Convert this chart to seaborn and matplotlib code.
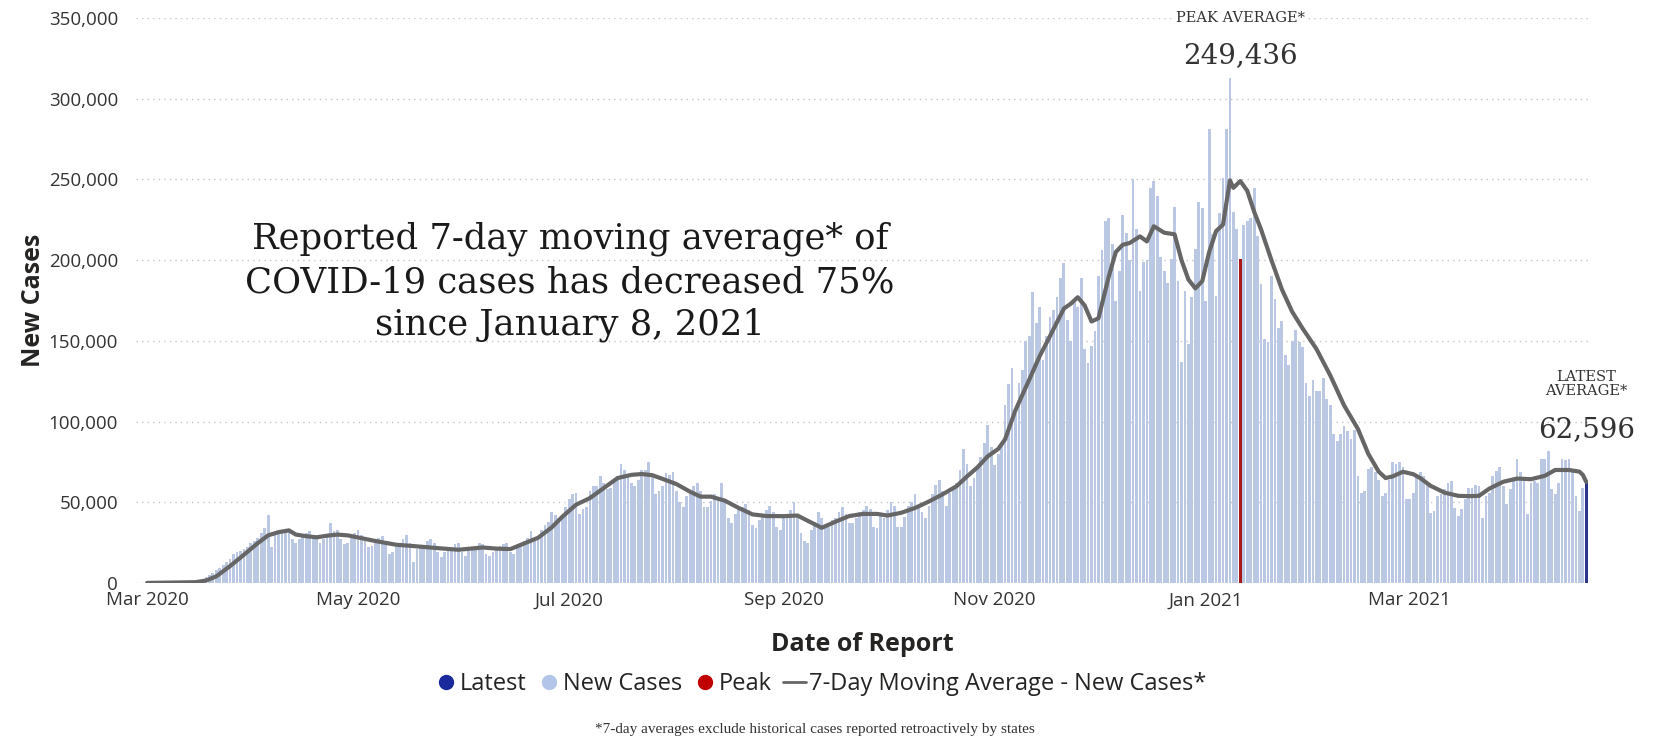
import numpy as np
import pandas as pd
import seaborn as sns
import matplotlib
matplotlib.use("Agg")
import matplotlib.pyplot as plt
import matplotlib.dates as mdates
from matplotlib.lines import Line2D
from matplotlib.ticker import FuncFormatter, MultipleLocator

# daily new cases, in thousands, one list per month
mar_2020 = [0.02, 0.03, 0.03, 0.04, 0.07, 0.07, 0.1, 0.12, 0.17, 0.3, 0.35, 0.45, 0.55, 0.7,
            1.0, 1.5, 2.5, 3.5, 5.0, 6.5, 8.0, 9.0, 11, 13, 15, 18, 19, 20, 21, 22, 25]
apr_2020 = [26, 28, 31, 34, 42, 22, 30, 31, 32, 33, 32, 27, 25, 27, 29, 31, 32, 30,
            27, 25, 27, 30, 37, 32, 33, 27, 24, 25, 29, 31]
may_2020 = [33, 30, 26, 22, 23, 25, 28, 29, 26, 18, 19, 22, 23, 27, 30, 25, 13, 21, 22, 23,
            26, 27, 25, 19, 16, 19, 20, 21, 24, 25, 19]
jun_2020 = [17, 20, 22, 21, 25, 24, 18, 17, 19, 21, 23, 24, 25, 19, 18, 22, 23, 26, 28, 32,
            26, 27, 33, 36, 38, 44, 42, 40, 41, 47]
jul_2020 = [52, 55, 56, 43, 46, 47, 57, 60, 60, 66, 62, 58, 59, 63, 66, 74, 70, 66, 62, 60,
            64, 70, 70, 75, 67, 55, 57, 60, 68, 67, 69]
aug_2020 = [57, 50, 47, 54, 55, 60, 62, 57, 47, 47, 51, 55, 53, 62, 52, 40, 37, 43, 46, 47,
            49, 45, 36, 34, 39, 43, 45, 48, 44, 35, 33]
sep_2020 = [41, 41, 45, 50, 42, 31, 26, 25, 33, 38, 44, 40, 34, 35, 39, 40, 44, 47, 43, 37,
            37, 40, 44, 45, 48, 46, 35, 34, 42, 40]
oct_2020 = [45, 50, 48, 35, 35, 41, 48, 50, 55, 48, 44, 40, 48, 55, 61, 64, 57, 48, 56, 59,
            62, 70, 83, 74, 60, 65, 72, 78, 87, 98, 84]
nov_2020 = [73, 80, 87, 110, 123, 133, 105, 124, 132, 150, 153, 180, 161, 171, 138, 153,
            165, 169, 177, 189, 198, 163, 150, 175, 171, 189, 145, 136, 147, 156]
dec_2020 = [190, 206, 224, 226, 210, 175, 193, 228, 217, 200, 250, 219, 181, 199, 200, 245,
            249, 240, 202, 193, 186, 201, 233, 187, 137, 181, 148, 177, 207, 236, 232]
jan_2021 = [175, 281, 216, 178, 229, 251, 281, 313, 230, 219, 201, 222, 224, 226, 245, 215,
            185, 151, 149, 190, 176, 158, 162, 141, 135, 150, 157, 149, 146, 124, 116]
feb_2021 = [126, 119, 119, 127, 114, 110, 92, 88, 92, 97.5, 94, 89, 95, 66, 56, 57, 70.5,
            71.6, 68.5, 64, 54, 56, 64, 75, 74, 75, 72, 52]
mar_2021 = [52, 56, 66, 68.5, 66, 62, 43.6, 44.6, 54, 55, 58, 62, 63, 46.7, 41.5, 45.6, 52,
            59, 59, 61, 60, 40.5, 54, 56, 66, 69.5, 71.6, 60, 48.8, 58, 64]
apr_2021 = [77, 68.5, 64, 42.5, 62, 63, 62, 77, 77, 82, 58, 55, 62, 77, 76, 77, 68.5, 54,
            44.6, 59, 62]

first_day = "2020-03-01"
peak_day = "2021-01-11"

# 7-day moving average, read at points along the grey line (thousands)
avg_dates = ["2020-03-01", "2020-03-15", "2020-03-18", "2020-03-21", "2020-03-25", "2020-03-29",
             "2020-04-02", "2020-04-05", "2020-04-08", "2020-04-11", "2020-04-13", "2020-04-16",
             "2020-04-19", "2020-04-22", "2020-04-25", "2020-04-28", "2020-05-01", "2020-05-06",
             "2020-05-12", "2020-05-18", "2020-05-24", "2020-05-30", "2020-06-02", "2020-06-06",
             "2020-06-10", "2020-06-14", "2020-06-18", "2020-06-22", "2020-06-26", "2020-06-29",
             "2020-07-03", "2020-07-07", "2020-07-11", "2020-07-15", "2020-07-19", "2020-07-22",
             "2020-07-25", "2020-07-28", "2020-08-01", "2020-08-05", "2020-08-08", "2020-08-11",
             "2020-08-15", "2020-08-19", "2020-08-23", "2020-08-27", "2020-09-01", "2020-09-05",
             "2020-09-08", "2020-09-12", "2020-09-16", "2020-09-20", "2020-09-24", "2020-09-28",
             "2020-10-01", "2020-10-05", "2020-10-09", "2020-10-13", "2020-10-17", "2020-10-21",
             "2020-10-24", "2020-10-27", "2020-10-30", "2020-11-02", "2020-11-04", "2020-11-07",
             "2020-11-11", "2020-11-14", "2020-11-17", "2020-11-21", "2020-11-23", "2020-11-25",
             "2020-11-27", "2020-11-29", "2020-12-01", "2020-12-04", "2020-12-06", "2020-12-08",
             "2020-12-10", "2020-12-13", "2020-12-15", "2020-12-17", "2020-12-20", "2020-12-23",
             "2020-12-25", "2020-12-27", "2020-12-29", "2020-12-31", "2021-01-02", "2021-01-04",
             "2021-01-06", "2021-01-08", "2021-01-09", "2021-01-11", "2021-01-13", "2021-01-15",
             "2021-01-17", "2021-01-20", "2021-01-23", "2021-01-26", "2021-01-29", "2021-02-02",
             "2021-02-06", "2021-02-10", "2021-02-14", "2021-02-17", "2021-02-20", "2021-02-22",
             "2021-02-24", "2021-02-27", "2021-03-02", "2021-03-04", "2021-03-07", "2021-03-11",
             "2021-03-15", "2021-03-18", "2021-03-21", "2021-03-24", "2021-03-28", "2021-04-01",
             "2021-04-05", "2021-04-09", "2021-04-12", "2021-04-16", "2021-04-19", "2021-04-20",
             "2021-04-21"]
avg_values = [0.05, 0.5, 1.5, 4.1, 10.5, 17.5,
              24.7, 29.5, 31.5, 32.6, 30.0, 29.0,
              28.3, 29.3, 30.0, 29.5, 28.2, 26.0,
              23.7, 22.7, 21.6, 20.6, 21.2, 22.0,
              21.3, 21.0, 24.5, 28.0, 34.5, 41.0,
              48.5, 52.6, 58.8, 65.0, 67.0, 67.5,
              66.8, 64.5, 61.3, 56.5, 53.5, 53.5,
              51.0, 46.5, 42.5, 41.5, 41.4, 41.8,
              38.5, 34.2, 38.0, 41.5, 42.8, 42.8,
              41.8, 43.5, 46.5, 50.5, 55.0, 60.0,
              66.0, 71.6, 78.5, 83.0, 89.0, 107.0,
              126.0, 140.5, 153.0, 170.0, 173.0, 177.0,
              172.0, 162.0, 164.0, 190.0, 205.0, 209.5,
              210.6, 214.7, 211.6, 221.0, 217.0, 216.0,
              200.0, 188.0, 182.5, 187.0, 205.0, 218.0,
              222.0, 249.4, 244.8, 249.0, 243.0, 230.0,
              219.0, 200.0, 182.0, 168.0, 157.7, 145.0,
              128.6, 110.0, 95.4, 80.0, 69.0, 65.0,
              66.0, 68.9, 67.4, 65.0, 60.2, 56.0,
              54.0, 53.8, 54.0, 58.5, 62.7, 64.7,
              64.3, 66.4, 70.0, 70.0, 69.0, 67.0,
              62.6]

peak_label = "249,436"
latest_label = "62,596"

cases_k = (mar_2020 + apr_2020 + may_2020 + jun_2020 + jul_2020 + aug_2020 + sep_2020
           + oct_2020 + nov_2020 + dec_2020 + jan_2021 + feb_2021 + mar_2021 + apr_2021)
days = pd.date_range(first_day, periods=len(cases_k), freq="D")

df = pd.DataFrame({"date": days, "cases": np.array(cases_k) * 1000})
df["x"] = mdates.date2num(df["date"])
df["kind"] = "New Cases"
df.loc[df["date"] == pd.Timestamp(peak_day), "kind"] = "Peak"
df.loc[df.index[-1], "kind"] = "Latest"

avg = pd.DataFrame({"x": mdates.date2num(pd.to_datetime(avg_dates)),
                    "avg": np.array(avg_values) * 1000})

c_bar = "#b3c6ea"
c_peak = "#c00000"
c_latest = "#1a2a9c"
c_line = "#666666"
c_text = "#333333"

sns.set_theme(style="white")
plt.rcParams["font.family"] = ["Open Sans", "DejaVu Sans"]

W, H = 1655, 739
fig = plt.figure(figsize=(W / 100, H / 100), dpi=100)
ax = fig.add_axes([136 / W, 1 - 583 / H, (1588 - 136) / W, (583 - 18) / H])

sns.barplot(data=df, x="x", y="cases", hue="kind", native_scale=True, dodge=False,
            palette={"New Cases": c_bar, "Peak": c_peak, "Latest": c_latest},
            width=0.8, linewidth=0, errorbar=None, legend=False, ax=ax)
sns.lineplot(data=avg, x="x", y="avg", color=c_line, linewidth=3, ax=ax)

x0 = mdates.date2num(pd.Timestamp(first_day))
ax.set_xlim(x0 - 3.2, x0 + len(cases_k) - 0.5)
ax.set_ylim(0, 350000)

ax.xaxis.set_major_locator(mdates.MonthLocator(bymonth=[1, 3, 5, 7, 9, 11]))
ax.xaxis.set_major_formatter(mdates.DateFormatter("%b %Y"))
ax.yaxis.set_major_locator(MultipleLocator(50000))
ax.yaxis.set_major_formatter(FuncFormatter(lambda v, p: f"{int(v):,}"))

ax.yaxis.grid(True, linestyle=(0, (1, 3)), color="#c6c6c6", linewidth=1)
ax.xaxis.grid(False)
ax.set_axisbelow(True)
for s in ax.spines.values():
    s.set_visible(False)
ax.tick_params(axis="both", length=0, labelsize=13.5, labelcolor=c_text)
ax.tick_params(axis="x", pad=6)
ax.tick_params(axis="y", pad=13)

ax.set_xlabel("Date of Report", fontsize=18, fontweight="bold", color="#252423")
ax.set_ylabel("New Cases", fontsize=18, fontweight="bold", color="#252423")
ax.xaxis.set_label_coords(0.5, -0.087)
ax.yaxis.set_label_coords(-0.062, 0.5)

serif = ["DejaVu Serif"]
fig.text(570 / W, 1 - 282 / H,
         "Reported 7-day moving average* of\nCOVID-19 cases has decreased 75%\nsince January 8, 2021",
         ha="center", va="center", multialignment="center", fontsize=25.5, linespacing=1.33,
         family=serif, color="#1a1a1a")

px = mdates.date2num(pd.Timestamp(peak_day))
ax.text(px, 350000, "PEAK AVERAGE*", ha="center", va="center", fontsize=10.5, family=serif,
        color=c_text, bbox=dict(facecolor="white", edgecolor="none", pad=2), clip_on=False)
ax.text(px, 327000, peak_label, ha="center", va="center", fontsize=20, family=serif,
        color=c_text, clip_on=False)

lx = df["x"].iloc[-1]
ax.text(lx, 123000, "LATEST\nAVERAGE*", ha="center", va="center", fontsize=10.5,
        family=serif, color=c_text, linespacing=1.0, clip_on=False)
ax.text(lx, 94800, latest_label, ha="center", va="center", fontsize=20, family=serif,
        color=c_text, clip_on=False)

handles = [
    Line2D([], [], marker="o", linestyle="none", color=c_latest, markersize=10),
    Line2D([], [], marker="o", linestyle="none", color=c_bar, markersize=10),
    Line2D([], [], marker="o", linestyle="none", color=c_peak, markersize=10),
    Line2D([], [], color=c_line, linewidth=2),
]
labels = ["Latest", "New Cases", "Peak", "7-Day Moving Average - New Cases*"]
fig.legend(handles, labels, loc="center", bbox_to_anchor=(820 / W, 1 - 684 / H), ncol=4,
           frameon=False, fontsize=17, handlelength=1.0, handletextpad=0.1,
           columnspacing=0.45, labelcolor="#252423")

fig.text(815 / W, 1 - 730 / H,
         "*7-day averages exclude historical cases reported retroactively by states",
         ha="center", va="center", fontsize=11, family=["Liberation Serif"], color=c_text)

fig.savefig("out.png", dpi=100)
